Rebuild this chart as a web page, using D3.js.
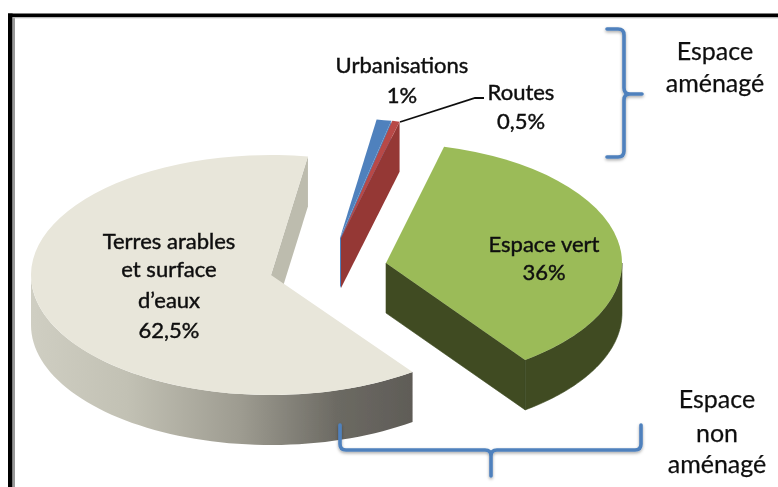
<!DOCTYPE html>
<html><head><meta charset="utf-8">
<script src="https://cdn.jsdelivr.net/npm/d3@7"></script>
<style>html,body{margin:0;padding:0;background:#fff;overflow:hidden}
text{font-family:Lato,"Open Sans",sans-serif;fill:#111;stroke:#111;text-anchor:middle}</style>
</head><body><svg id="c" width="778" height="487"></svg>
<script>
const categories = ["Espace vert","Terres arables et surface d’eaux","Urbanisations","Routes"];
const values = [36,62.5,1,0.5];
const topColors = ["#9bbb59","#e8e6da","#4f81bd","#b84a47"];
const wallColors = ["#3f4c23","url(#terresWall)","#4f81bd","#953735"];
const cutColors = ["#3f4c23","#bdbcae","#4f81bd","#953735"];
const apexX = [386,271,340,341];
const apexY = [263,275,238,238];
const radiiX = [236,240,238,238];
const labelLines = [
  {lines:["Espace vert","36%"],x:544,y:[252,280],size:22,halo:.45},
  {lines:["Terres arables","et surface","d’eaux","62,5%"],x:169,y:[249,277,308,338],size:22,halo:.45},
  {lines:["Urbanisations","1%"],x:402,y:[73,103],size:22,halo:.45},
  {lines:["Routes","0,5%"],x:521,y:[100,129],size:22,halo:.45},
  {lines:["Espace","aménagé"],x:715,y:[60,92],size:25,halo:.25},
  {lines:["Espace","non","aménagé"],x:717,y:[408,442,473],size:25,halo:.25}
];
const RY=120, DEPTH=50;
const svg=d3.select("#c");
const defs=svg.append("defs");
const g0=defs.append("linearGradient").attr("id","terresWall").attr("gradientUnits","userSpaceOnUse")
  .attr("x1",32).attr("x2",413).attr("y1",0).attr("y2",0);
[[0,"#cfcec2"],[.25,"#c2c1b4"],[.55,"#9d9b90"],[.8,"#6c6a63"],[1,"#5f5c57"]].forEach(s=>g0.append("stop").attr("offset",s[0]).attr("stop-color",s[1]));
const blur=defs.append("filter").attr("id","soft").attr("x","-5%").attr("y","-5%").attr("width","110%").attr("height","110%");
blur.append("feGaussianBlur").attr("stdDeviation",0.45);
const sh=defs.append("filter").attr("id","shadow").attr("x","-20%").attr("y","-20%").attr("width","140%").attr("height","140%");
sh.append("feDropShadow").attr("dx",0).attr("dy",1.5).attr("stdDeviation",1.5).attr("flood-color","#000").attr("flood-opacity",.35);

const root=svg.append("g").attr("filter","url(#soft)");
const start=14.25*Math.PI/180;
const arcs=d3.pie().sort(null).startAngle(start).endAngle(start+2*Math.PI)(values);
const pt=(i,a,dz=0)=>[apexX[i]+radiiX[i]*Math.sin(a),apexY[i]-RY*Math.cos(a)+dz];
const line=d3.line();
function rimWall(i,a0,a1){
  const angs=d3.range(0,61).map(k=>a0+(a1-a0)*k/60);
  const pts=angs.map(a=>pt(i,a)).concat(angs.slice().reverse().map(a=>pt(i,a,DEPTH)));
  return line(pts)+"Z";
}
function cutWall(i,a){
  return line([[apexX[i],apexY[i]],pt(i,a),pt(i,a,DEPTH),[apexX[i],apexY[i]+DEPTH]])+"Z";
}
function topFace(i){
  const arc=d3.arc().innerRadius(0).outerRadius(radiiX[i]);
  root.append("path").datum(arcs[i]).attr("d",arc).attr("fill",topColors[i])
    .attr("transform",`translate(${apexX[i]},${apexY[i]}) scale(1,${RY/radiiX[i]})`);
}
// Terres arables
root.append("path").attr("d",cutWall(1,arcs[1].endAngle)).attr("fill",cutColors[1]);
root.append("path").attr("d",rimWall(1,arcs[1].startAngle,Math.PI*1.5)).attr("fill",wallColors[1]);
topFace(1);
// Espace vert
root.append("path").attr("d",cutWall(0,arcs[0].endAngle)).attr("fill",cutColors[0]).attr("stroke",cutColors[0]).attr("stroke-width",.6);
root.append("path").attr("d",rimWall(0,Math.PI/2,arcs[0].endAngle)).attr("fill",wallColors[0]).attr("stroke",wallColors[0]).attr("stroke-width",.6);
topFace(0);
// Urbanisations
root.append("path").attr("d",cutWall(2,arcs[2].endAngle)).attr("fill",cutColors[2]);
topFace(2);
// Routes
root.append("path").attr("d",cutWall(3,arcs[3].endAngle)).attr("fill",cutColors[3]);
topFace(3);

// Leader
root.append("path").attr("d",line([[400,122],[475,98],[484,98]])).attr("fill","none").attr("stroke","#111").attr("stroke-width",1.8);

// Brackets
const br=root.append("g").attr("filter","url(#shadow)").attr("fill","none").attr("stroke","#4f81bd").attr("stroke-width",3.6).attr("stroke-linecap","round");
br.append("path").attr("d","M607,29 H618 Q624,29 624,35 V88 Q624,94 630,94 H642 M630,94 Q624,94 624,100 V151 Q624,157 618,157 H607");
br.append("path").attr("d","M340,425 V444 Q340,450 346,450 H485 Q491,450 491,456 V476 M491,456 Q491,450 497,450 H635 Q641,450 641,444 V425");

// Labels
labelLines.forEach(l=>l.lines.forEach((t,k)=>{
  root.append("text").attr("x",l.x).attr("y",l.y[k]).attr("font-size",l.size).attr("stroke-width",l.halo).text(t);
}));

// Frame
const fr=root.append("g");
fr.append("rect").attr("x",8).attr("y",13.5).attr("width",770).attr("height",3.8).attr("fill","#000");
fr.append("rect").attr("x",8).attr("y",13.5).attr("width",4.6).attr("height",473.5).attr("fill","#000");
fr.append("rect").attr("x",12.6).attr("y",17.3).attr("width",2.4).attr("height",470).attr("fill","#9a9a9a");
fr.append("rect").attr("x",12.6).attr("y",17.3).attr("width",766).attr("height",1).attr("fill","#bbb");
</script></body></html>
